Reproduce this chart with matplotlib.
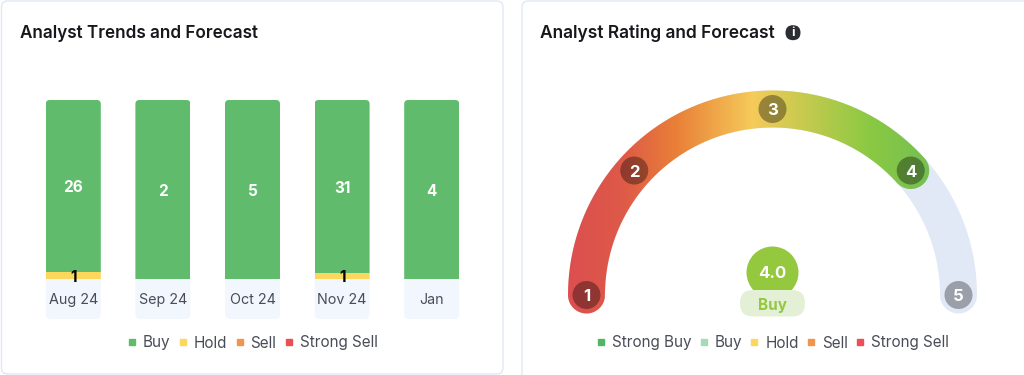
import numpy as np
import matplotlib
matplotlib.use("Agg")
import matplotlib.pyplot as plt
from matplotlib.colors import LinearSegmentedColormap
from matplotlib.lines import Line2D
from matplotlib.patches import Circle, FancyBboxPatch, PathPatch
from matplotlib.path import Path
from matplotlib.transforms import IdentityTransform

months = ["Aug 24", "Sep 24", "Oct 24", "Nov 24", "Jan"]
buy = [26, 2, 5, 31, 4]
hold = [1, 0, 0, 1, 0]
sell = [0, 0, 0, 0, 0]
strong_sell = [0, 0, 0, 0, 0]

rating_points = [1, 2, 3, 4, 5]
rating_angles = [180, 138, 90, 42, 0]
rating_value = 4.0
rating_label = "Buy"

left_legend = ["Buy", "Hold", "Sell", "Strong Sell"]
right_legend = ["Strong Buy", "Buy", "Hold", "Sell", "Strong Sell"]

W, H = 1024, 375
INK = "#4a4d57"
GREEN, YELLOW, ORANGE, RED = "#60bc6c", "#fbd75c", "#f0954f", "#ec4e56"

plt.rcParams["font.family"] = ["Inter", "DejaVu Sans"]
fig = plt.figure(figsize=(W / 100, H / 100), dpi=100, facecolor="white")


def pixel_axes(x0, y0, x1, y1):
    # pixel box measured from the top left of the picture
    ax = fig.add_axes([x0 / W, (H - y1) / H, (x1 - x0) / W, (y1 - y0) / H])
    ax.patch.set_visible(False)
    return ax


def pixel_box(x0, y0, x1, y1, r, face, edge="none", lw=0, zorder=-2):
    box = FancyBboxPatch((x0, H - y1), x1 - x0, y1 - y0, boxstyle=f"round,pad=0,rounding_size={r}",
                         facecolor=face, edgecolor=edge, linewidth=lw,
                         transform=IdentityTransform(), zorder=zorder)
    return box


def add_legend(ax, labels, colors, center_x, center_y):
    handles = [Line2D([], [], linestyle="none", marker="s", markersize=4.9, color=c) for c in colors]
    ax.legend(handles, labels, ncol=len(labels), loc="center", frameon=False,
              bbox_to_anchor=(center_x / W, (H - center_y) / H), bbox_transform=fig.transFigure,
              fontsize=11, labelcolor=INK, handlelength=0.6, handletextpad=0.42,
              columnspacing=0.5, borderpad=0, borderaxespad=0)


# cards
fig.add_artist(pixel_box(1.5, 1, 503, 374, 6, "white", "#e0e8f5", 1))
fig.add_artist(pixel_box(522, 1, 1040, 395, 6, "white", "#e0e8f5", 1))

fig.text(20 / W, (H - 33) / H, "Analyst Trends and Forecast", fontsize=12.3, fontweight="semibold",
         color="#17181c", va="center")
fig.text(540 / W, (H - 33) / H, "Analyst Rating and Forecast", fontsize=12.5, fontweight="semibold",
         color="#17181c", va="center")

# stacked bars
ax = pixel_axes(28.5, 100, 476.5, 279)
x = np.arange(len(months))
bar_w = 0.614
ax.set_xlim(-0.5, len(months) - 0.5)
ax.set_ylim(0, 1)
totals = np.array(buy) + np.array(hold) + np.array(sell) + np.array(strong_sell)
bottom = np.zeros(len(months))
for vals, color, z in [(strong_sell, RED, 4), (sell, ORANGE, 4), (hold, YELLOW, 4), (buy, GREEN, 3)]:
    share = np.array(vals) / totals
    lw = [0.72 if v > 0 and color != GREEN else 0 for v in vals]
    bars = ax.bar(x, share, bar_w, bottom=bottom, color=color, edgecolor=color, linewidth=lw, zorder=z)
    for i, b in enumerate(bars):
        if vals[i] > 0:
            txt_color = "white" if color == GREEN else "black"
            ax.text(x[i], bottom[i] + share[i] / 2, str(vals[i]), ha="center", va="center_baseline",
                    color=txt_color, fontsize=11, fontweight="bold", zorder=6)
        # round the top corners only
        left = ax.transData.transform((x[i] - bar_w / 2, 1))
        right = ax.transData.transform((x[i] + bar_w / 2, 0))
        clip = FancyBboxPatch((left[0], right[1] - 20), right[0] - left[0], left[1] - right[1] + 20,
                              boxstyle="round,pad=0,rounding_size=4", transform=IdentityTransform())
        b.set_clip_path(clip)
    bottom += share

for i in range(len(months)):
    cx = ax.transData.transform((x[i], 0))[0]
    fig.add_artist(pixel_box(cx - 27.5, 270, cx + 27.5, 319, 5, "#f2f6fd", zorder=-1))

ax.set_xticks(x)
ax.set_xticklabels(months)
ax.tick_params(axis="x", length=0, pad=10, labelsize=10.3, labelcolor=INK)
ax.set_yticks([])
for s in ax.spines.values():
    s.set_visible(False)
add_legend(ax, left_legend, [GREEN, YELLOW, ORANGE, RED], 252.5, 343)

# gauge, in pixels around the centre of the arc
cx, cy = 772.5, 295
R, band = 186, 37
ax2 = pixel_axes(cx - 212.5, 80, cx + 212.5, 330)
ax2.set_xlim(-212.5, 212.5)
ax2.set_ylim(-35, 215)
ax2.axis("off")


def band_path(a0, a1):
    # ring segment from a0 down to a1 degrees with round ends
    t = np.radians(np.linspace(a0, a1, 200))
    phi = np.radians(np.linspace(0, 180, 40))

    def cap(a, phis, sign):
        u = np.array([np.cos(a), np.sin(a)])
        d = np.array([np.sin(a), -np.cos(a)])
        return np.array([R * u + band / 2 * (np.cos(p) * u + sign * np.sin(p) * d) for p in phis])

    outer = np.c_[(R + band / 2) * np.cos(t), (R + band / 2) * np.sin(t)]
    inner = np.c_[(R - band / 2) * np.cos(t[::-1]), (R - band / 2) * np.sin(t[::-1])]
    return Path(np.vstack([outer, cap(t[-1], phi, 1), inner, cap(t[0], phi[::-1], -1)]))


ax2.add_patch(PathPatch(band_path(180, 0), facecolor="#e1e8f6", edgecolor="none", zorder=1))

value_angle = np.interp(rating_value, rating_points, rating_angles)
stops = [(-205, "#dc4f4f"), (-150, "#de5a48"), (-98, "#e97f37"), (-20, "#f5cb5a"), (97, "#8bc942"), (160, "#74bf54")]
pos = [(s[0] + 205) / 365 for s in stops]
cmap = LinearSegmentedColormap.from_list("gauge", list(zip(pos, [s[1] for s in stops])))
img = ax2.imshow(np.linspace(0, 1, 400).reshape(1, -1), cmap=cmap, extent=(-205, 160, -35, 215),
                 aspect="auto", zorder=2)
clip = PathPatch(band_path(180, value_angle), transform=ax2.transData, facecolor="none", edgecolor="none")
ax2.add_patch(clip)
img.set_clip_path(clip)
ax2.set_xlim(-212.5, 212.5)
ax2.set_ylim(-35, 215)

for n, a in zip(rating_points, rating_angles):
    px, py = R * np.cos(np.radians(a)), R * np.sin(np.radians(a))
    if n <= rating_value:
        ax2.add_patch(Circle((px, py), 14, facecolor="black", alpha=0.35, edgecolor="none", zorder=3))
    else:
        ax2.add_patch(Circle((px, py), 14, facecolor="#9a9fa9", edgecolor="none", zorder=3))
    ax2.text(px, py, str(n), color="white", fontsize=12, fontweight="bold", ha="center",
             va="center_baseline", zorder=4)

ax2.add_patch(Circle((0, 22.5), 26, facecolor="#94c83f", edgecolor="none", zorder=5))
ax2.text(0, 22.5, f"{rating_value:.1f}", color="white", fontsize=12, fontweight="bold", ha="center",
         va="center_baseline", zorder=7)
ax2.add_patch(FancyBboxPatch((-32.5, -21.5), 65, 26.5, boxstyle="round,pad=0,rounding_size=13",
                             facecolor="#e3f0d5", edgecolor="none", zorder=6))
ax2.text(0, -9, rating_label, color="#94c83f", fontsize=11, fontweight="bold", ha="center",
         va="center_baseline", zorder=7)

add_legend(ax2, right_legend, ["#4fb762", "#a5dcb5", YELLOW, ORANGE, RED], 772.5, 343)

# info icon next to the title
fig.add_artist(pixel_box(785.5, 25.2, 800.5, 40.2, 7.5, "#2b2d33", zorder=1))
fig.text(793 / W, (H - 32.7) / H, "i", color="white", fontsize=9, fontweight="bold", ha="center",
         va="center", zorder=2)

fig.savefig("out.png", dpi=100)
